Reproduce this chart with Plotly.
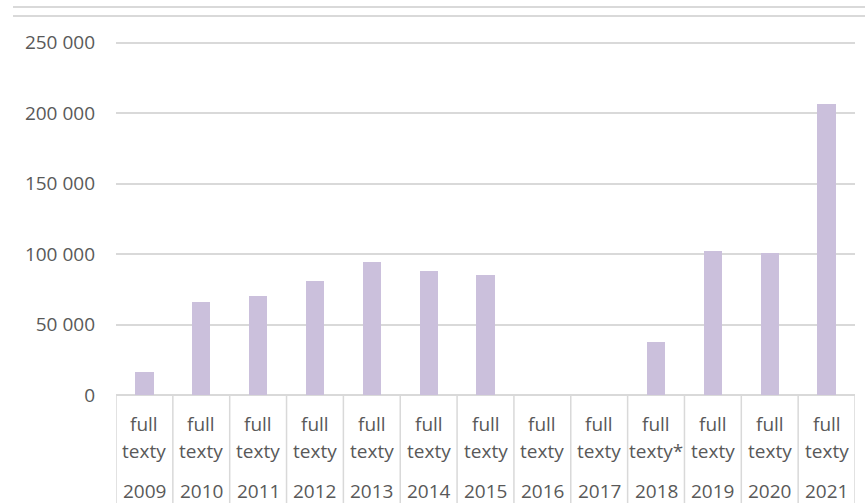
import plotly.graph_objects as go

years = ["2009", "2010", "2011", "2012", "2013", "2014", "2015",
         "2016", "2017", "2018", "2019", "2020", "2021"]
row1 = ["full"] * 13
row2 = ["texty"] * 9 + ["texty*"] + ["texty"] * 3
values = [16300, 66000, 70500, 81000, 94500, 88000, 85000,
          0, 0, 37600, 102300, 101000, 206700]
y_ticks = [0, 50000, 100000, 150000, 200000, 250000]
y_labels = ["0", "50 000", "100 000", "150 000", "200 000", "250 000"]

TEXT = "#595959"
GRID = "#d9d9d9"
FONT = "Open Sans, sans-serif"

W, H = 865, 503
L, R, T, B = 116, 10, 40, 108
plot_h = H - T - B


def py(px_y):
    # pixel row -> paper coordinate
    return (H - B - px_y) / plot_h


x = list(range(len(years)))

fig = go.Figure(go.Bar(x=x, y=values, width=0.32, marker=dict(color="#cbc0dc", line_width=0)))

annotations = []
for i in x:
    for txt, yy in ((row1[i], 424), (row2[i], 451), (years[i], 491)):
        annotations.append(dict(x=i, y=py(yy), xref="x", yref="paper", text=txt,
                                showarrow=False, xanchor="center", yanchor="middle",
                                font=dict(family=FONT, size=19, color=TEXT)))

shapes = []
for i in range(len(years) + 1):
    shapes.append(dict(type="line", xref="x", yref="paper", x0=i - 0.5, x1=i - 0.5,
                       y0=0, y1=-0.4, line=dict(color=GRID, width=1.5)))
# top double rule
for yy in (7, 16):
    shapes.append(dict(type="line", xref="paper", yref="paper",
                       x0=(13 - L) / (W - L - R), x1=(W - L) / (W - L - R),
                       y0=py(yy), y1=py(yy), line=dict(color=GRID, width=2)))

fig.update_layout(
    width=W, height=H,
    margin=dict(l=L, r=R, t=T, b=B, autoexpand=False),
    paper_bgcolor="white", plot_bgcolor="white",
    showlegend=False,
    bargap=0,
    annotations=annotations,
    shapes=shapes,
    xaxis=dict(range=[-0.5, len(years) - 0.5], showticklabels=False, showgrid=False,
               zeroline=False, showline=False, fixedrange=True),
    yaxis=dict(range=[0, 252000], tickvals=y_ticks, ticktext=y_labels,
               showgrid=True, gridcolor=GRID, gridwidth=1.5,
               zeroline=True, zerolinecolor=GRID, zerolinewidth=1.5,
               showline=False, ticklabelstandoff=20,
               tickfont=dict(family=FONT, size=19, color=TEXT)),
)

# page body has a default 8px margin; drop it so the figure sits at the corner
fig.write_html("out.html", config={"displayModeBar": False},
               post_script="document.body.style.margin='0';")
